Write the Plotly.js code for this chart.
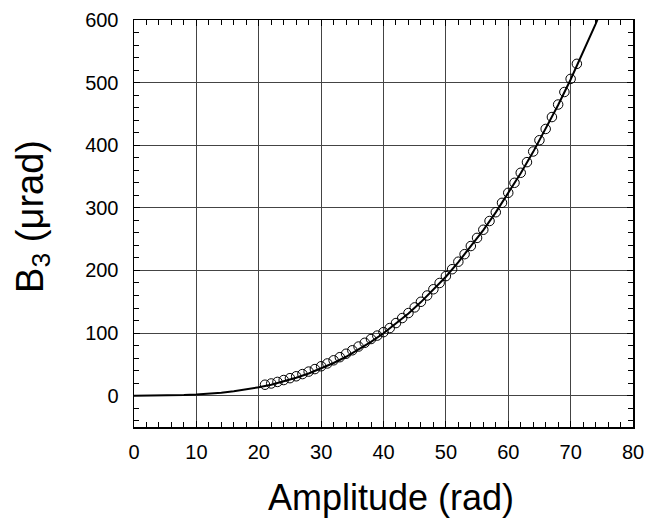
<!DOCTYPE html>
<html>
<head>
<meta charset="utf-8">
<script src="https://cdn.plot.ly/plotly-3.0.1.min.js"></script>
<style>html,body{margin:0;padding:0;background:#fff;}</style>
</head>
<body>
<div id="chart" style="width:655px;height:518px;"></div>
<script>
// Measured points (amplitude in rad, B3 in microrad)
const measAmp = [21,22,23,24,25,26,27,28,29,30,31,32,33,34,35,36,37,38,39,40,41,42,43,44,45,46,47,48,49,50,51,52,53,54,55,56,57,58,59,60,61,62,63,64,65,66,67,68,69,70,71];
const measB3 = [17.5,19.5,22,25,28,31,34.5,38.5,42.5,47,51.5,56.5,61.5,67,72.5,78.5,84.5,90.5,96,101.5,108,116,124,132,141,150,160,170,180,191,202,214,226,239,252,265,279,293,308,324,340,356,373,390,408,426,445,465,485,506,530];
// Fitted curve
const fitAmp = [0,2,4,6,8,10,12,14,16,18,20,22,24,26,28,30,32,34,36,38,40,42,44,46,48,50,52,54,56,58,60,62,64,66,68,70,72,74,76];
const fitB3 = [0,0.017,0.125,0.407,0.937,1.79,3.04,4.75,6.99,9.84,13.35,17.6,22.7,28.6,35.4,43.2,52.2,62.2,73.4,85.9,99.7,114.9,131.4,149.5,169.2,190,213.3,238.0,264.5,292.8,323,355.2,389.4,425.8,464.3,505,548.1,593.5,641];
const xTicks = [0,10,20,30,40,50,60,70,80];
const yTicks = [0,100,200,300,400,500,600];
const xTitle = 'Amplitude (rad)';
const yTitle = 'B<sub>3</sub> (μrad)';

const font = "Liberation Sans, Arial, Helvetica, sans-serif";
const traces = [
  {x: fitAmp, y: fitB3, mode: 'lines', line: {color: '#000', width: 2}, hoverinfo: 'skip'},
  {x: measAmp, y: measB3, mode: 'markers', marker: {symbol: 'circle-open', size: 9.5, color: '#000', line: {width: 1, color: '#000'}}}
];
const axisCommon = {
  showline: true, linecolor: '#000', linewidth: 1.5, mirror: 'ticks',
  ticks: 'inside', ticklen: 6, tickcolor: '#000', tickwidth: 1,
  showgrid: true, gridcolor: '#444', gridwidth: 1, zeroline: false,
  tickfont: {family: font, size: 20, color: '#000'}
};
const layout = {
  width: 655, height: 518,
  margin: {l: 134, r: 22, t: 20, b: 91},
  paper_bgcolor: '#fff', plot_bgcolor: '#fff',
  showlegend: false,
  xaxis: Object.assign({}, axisCommon, {
    range: [0, 80], tickvals: xTicks, ticktext: xTicks.map(String),
    minor: {dtick: 2, tick0: 0, ticks: 'inside', ticklen: 5, tickcolor: '#000', tickwidth: 1, showgrid: false},
    ticklabelstandoff: 6
  }),
  yaxis: Object.assign({}, axisCommon, {
    range: [-50, 600], tickvals: yTicks, ticktext: yTicks.map(String),
    minor: {dtick: 20, tick0: 0, ticks: 'inside', ticklen: 5, tickcolor: '#000', tickwidth: 1, showgrid: false},
    ticklabelstandoff: 10
  }),
  annotations: [
    {text: xTitle, xref: 'paper', yref: 'paper', x: 0.515, y: -0.173, xanchor: 'center', yanchor: 'middle',
     showarrow: false, font: {family: font, size: 36, color: '#000'}},
    {text: yTitle, xref: 'paper', yref: 'paper', x: -0.203, y: 0.518, xanchor: 'center', yanchor: 'middle',
     textangle: -90, showarrow: false, font: {family: font, size: 38, color: '#000'}}
  ]
};
Plotly.newPlot('chart', traces, layout, {displayModeBar: false, staticPlot: true});
</script>
</body>
</html>
